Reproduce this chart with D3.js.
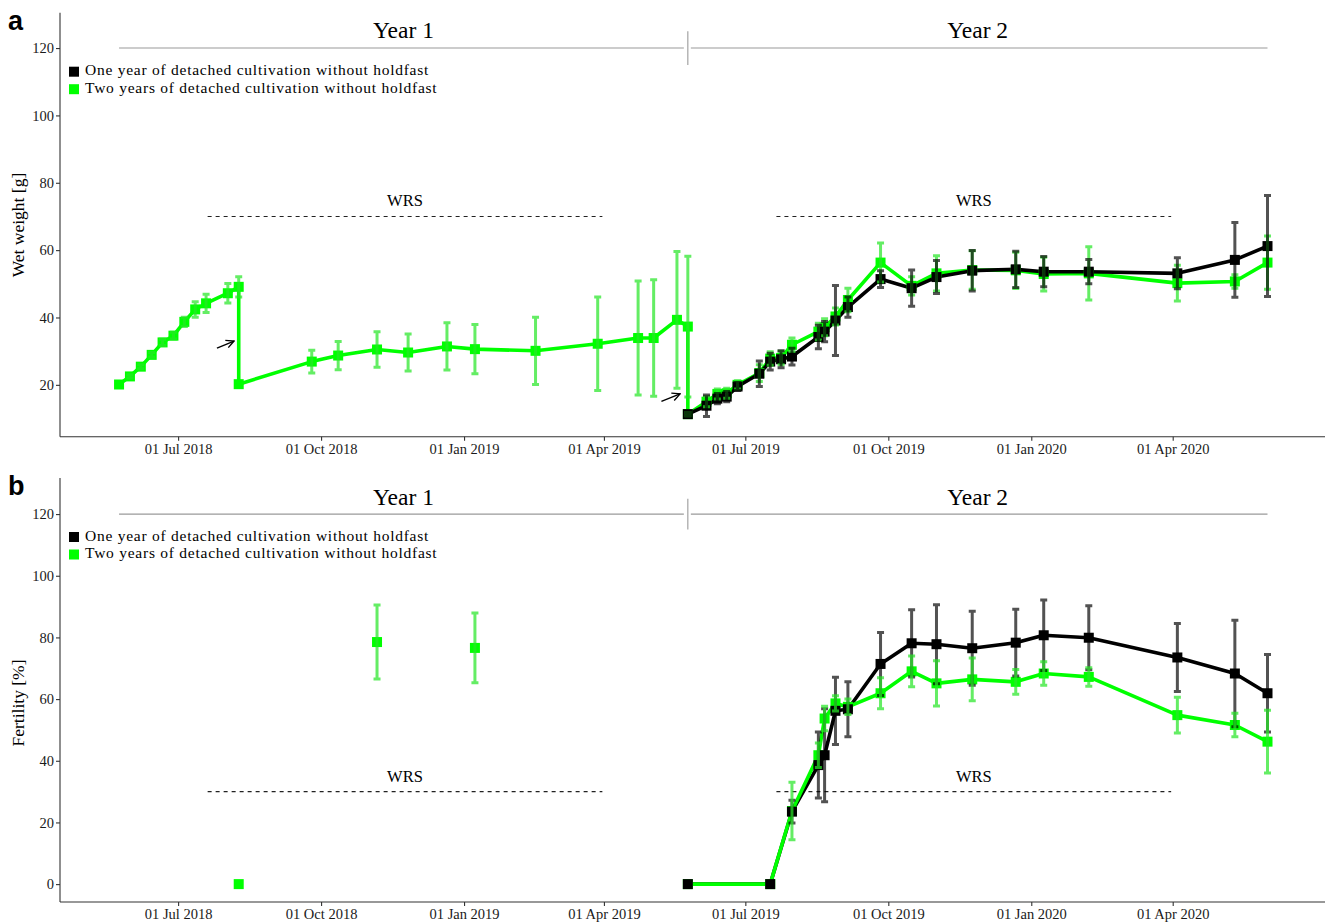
<!DOCTYPE html>
<html>
<head>
<meta charset="utf-8">
<script src="https://cdn.jsdelivr.net/npm/d3@7"></script>
<style>
  html, body { margin: 0; padding: 0; background: #fff; }
  svg { display: block; }
  text { font-family: "Liberation Serif", "Times New Roman", serif; }
</style>
</head>
<body>
<svg id="chart" width="1325" height="923"></svg>
<script>
// ---------------- DATA ----------------
const seriesNames = ["One year of detached cultivation without holdfast", "Two years of detached cultivation without holdfast"];
const seriesColors = ["#000000", "#00ff00"];
const xTickDates = ["2018-07-01", "2018-10-01", "2019-01-01", "2019-04-01", "2019-07-01", "2019-10-01", "2020-01-01", "2020-04-01"];
const xTickLabels = ["01 Jul 2018", "01 Oct 2018", "01 Jan 2019", "01 Apr 2019", "01 Jul 2019", "01 Oct 2019", "01 Jan 2020", "01 Apr 2020"];
const yTicksWeight = [20, 40, 60, 80, 100, 120];
const yTicksFert = [0, 20, 40, 60, 80, 100, 120];

// Panel a: wet weight, two years of detached cultivation (green)
const weightGreenDates = ["2018-05-24","2018-05-31","2018-06-07","2018-06-14","2018-06-21","2018-06-28","2018-07-05","2018-07-12","2018-07-19","2018-08-02","2018-08-09","2018-08-09",
  "2018-09-25","2018-10-12","2018-11-06","2018-11-26","2018-12-21","2019-01-08","2019-02-16","2019-03-28","2019-04-23","2019-05-03","2019-05-18","2019-05-25","2019-05-25",
  "2019-06-06","2019-06-13","2019-06-19","2019-06-26","2019-07-10","2019-07-17","2019-07-24","2019-07-31","2019-08-17","2019-08-21","2019-08-28","2019-09-05",
  "2019-09-26","2019-10-16","2019-11-01","2019-11-24","2019-12-22","2020-01-09","2020-02-07","2020-04-04","2020-05-11","2020-06-01"];
const weightGreenMean = [20.1,22.5,25.4,28.9,32.6,34.6,38.7,42.4,44.2,47.2,49.1,20.2,
  26.9,28.7,30.5,29.6,31.4,30.6,30.1,32.2,33.9,33.9,39.3,37.3,11.3,
  15.0,17.3,17.5,20.0,23.5,27.8,28.0,31.9,35.8,37.1,40.3,45.2,
  56.3,49.4,53.1,54.1,54.0,52.9,53.1,50.2,50.7,56.3];
const weightGreenErr = [0.4,0.5,0.6,0.7,0.9,1.0,1.4,2.3,2.7,2.9,3.0,0.4,
  3.4,4.2,5.3,5.5,7.0,7.3,10.0,13.9,16.9,17.3,20.3,20.9,0.5,
  1.5,1.5,1.5,1.2,2.5,2.0,2.0,2.0,2.5,2.5,2.5,3.5,
  5.8,2.7,5.2,5.7,5.4,5.0,7.9,5.3,2.0,7.9];

// Panel a: wet weight, one year of detached cultivation (black)
const weightBlackDates = ["2019-05-25","2019-06-06","2019-06-13","2019-06-19","2019-06-26","2019-07-10","2019-07-17","2019-07-24","2019-07-31","2019-08-17","2019-08-21","2019-08-28","2019-09-05",
  "2019-09-26","2019-10-16","2019-11-01","2019-11-24","2019-12-22","2020-01-09","2020-02-07","2020-04-04","2020-05-11","2020-06-01"];
const weightBlackMean = [11.3,13.8,15.9,16.5,19.5,23.3,26.9,27.6,28.4,34.2,35.8,39.1,43.1,
  51.4,48.7,52.0,53.9,54.3,53.6,53.6,53.1,57.1,61.2];
const weightBlackErr = [0.5,3.2,1.5,1.5,1.2,3.8,2.5,2.5,2.5,3.5,3.0,10.4,3.0,
  2.5,5.4,4.9,6.0,5.4,4.5,3.6,4.6,11.1,15.0];

// Panel b: fertility, two years (green) — year 1 single samplings (not joined)
const fertGreenY1Dates = ["2018-08-09","2018-11-06","2019-01-08"];
const fertGreenY1Mean = [0, 78.5, 76.6];
const fertGreenY1Err = [0, 12.0, 11.3];
// Panel b: fertility, year 2 sampling dates
const fertY2Dates = ["2019-05-25","2019-07-17","2019-07-31","2019-08-17","2019-08-21","2019-08-28","2019-09-05",
  "2019-09-26","2019-10-16","2019-11-01","2019-11-24","2019-12-22","2020-01-09","2020-02-07","2020-04-04","2020-05-11","2020-06-01"];
const fertGreenMean = [0, 0, 23.7, 41.8, 53.7, 58.6, 57.5, 61.9, 69.0, 65.1, 66.4, 65.6, 68.3, 67.2, 54.8, 51.6, 46.2];
const fertGreenErr  = [0, 0, 9.3, 4.0, 4.0, 2.5, 2.5, 5.0, 5.0, 7.3, 6.9, 4.0, 3.8, 3.0, 5.8, 3.8, 10.2];
// Panel b: fertility, one year (black)
const fertBlackMean = [0, 0, 23.5, 38.6, 41.8, 56.2, 56.7, 71.4, 78.1, 77.8, 76.5, 78.3, 80.7, 79.9, 73.5, 68.3, 61.9];
const fertBlackErr  = [0, 0, 3.7, 10.7, 15.1, 10.9, 8.9, 10.2, 10.9, 12.8, 12.0, 10.8, 11.4, 10.4, 11.0, 17.3, 12.6];

// Annotations
const yearLabels = ["Year 1", "Year 2"];
const yearSpan = ["2018-05-24", "2019-05-25", "2020-06-01"]; // start, divider, end
const yearLineValue = 120;
const yearLabelValue = 124.6;
const dividerRange = [115, 125];
const wrsPeriods = [["2018-07-20", "2019-03-31"], ["2019-07-21", "2020-03-31"]];
const wrsValueWeight = 70;
const wrsValueFert = 30;
const arrowsWeight = [
  {from: ["2018-07-26", 30.9], to: ["2018-08-06", 33.0]},
  {from: ["2019-05-08", 15.1], to: ["2019-05-20", 17.3]}
];

// ---------------- LAYOUT ----------------
const parse = d3.timeParse("%Y-%m-%d");
const svg = d3.select("#chart");
const xLeft = 60, xRight = 1325;
const x = d3.scaleTime().domain([parse("2018-04-16"), parse("2020-07-08")]).range([xLeft, xRight]);

function zip(dates, mean, err) {
  return dates.map((d, i) => ({date: parse(d), v: mean[i], e: err[i]}));
}

const panels = [
  {
    tag: "a", yTitle: "Wet weight [g]", yDomain: [4.6, 130.5], yRange: [436.7, 12.7], yTicks: yTicksWeight,
    titleY: 225, wrsValue: wrsValueWeight,
    lines: [
      {color: 1, data: zip(weightGreenDates, weightGreenMean, weightGreenErr)},
      {color: 0, data: zip(weightBlackDates, weightBlackMean, weightBlackErr)}
    ],
    pointsOnly: [],
    arrows: arrowsWeight
  },
  {
    tag: "b", yTitle: "Fertility [%]", yDomain: [-5.8, 131.7], yRange: [902, 478], yTicks: yTicksFert,
    titleY: 703, wrsValue: wrsValueFert,
    lines: [
      {color: 0, data: zip(fertY2Dates, fertBlackMean, fertBlackErr)},
      {color: 1, data: zip(fertY2Dates, fertGreenMean, fertGreenErr)}
    ],
    pointsOnly: [
      {color: 1, data: zip(fertGreenY1Dates, fertGreenY1Mean, fertGreenY1Err)}
    ],
    arrows: []
  }
];

const errColors = ["rgba(0,0,0,0.68)", "rgba(40,230,40,0.72)"];

svg.append("defs").append("marker")
  .attr("id", "arrowhead").attr("viewBox", "0 0 10 10")
  .attr("refX", 9).attr("refY", 5).attr("markerWidth", 7).attr("markerHeight", 7)
  .attr("orient", "auto")
  .append("path").attr("d", "M1,1 L9,5 L1,9").attr("fill", "none").attr("stroke", "#000").attr("stroke-width", 1.4);

panels.forEach(p => {
  const y = d3.scaleLinear().domain(p.yDomain).range(p.yRange);
  const g = svg.append("g");
  const top = p.yRange[1], bottom = p.yRange[0];

  // panel tag
  g.append("text").attr("x", 8).attr("y", top + 17)
    .style("font-family", "'Liberation Sans', Arial, sans-serif")
    .style("font-weight", "bold").style("font-size", "27px").text(p.tag);

  // axes
  const yAxis = d3.axisLeft(y).tickValues(p.yTicks).tickSize(4).tickPadding(2).tickFormat(d3.format("d"));
  const ya = g.append("g").attr("transform", `translate(${xLeft},0)`).call(yAxis);
  ya.select(".domain").attr("d", `M0,${top}V${bottom}`);
  const xAxis = d3.axisBottom(x).tickValues(xTickDates.map(parse)).tickSize(4).tickPadding(3)
    .tickFormat((d, i) => xTickLabels[i]);
  const xa = g.append("g").attr("transform", `translate(0,${bottom})`).call(xAxis);
  xa.select(".domain").attr("d", `M${xLeft},0H${xRight}`);
  [ya, xa].forEach(a => {
    a.select(".domain").attr("stroke", "#333").attr("stroke-width", 1.1);
    a.selectAll(".tick line").attr("stroke", "#333").attr("stroke-width", 1.1);
    a.selectAll(".tick text").attr("fill", "#1a1a1a").style("font-size", "14.5px")
      .style("font-family", "'Liberation Serif', serif");
  });

  // y title
  g.append("text").attr("transform", `translate(24,${p.titleY}) rotate(-90)`)
    .attr("text-anchor", "middle").style("font-size", "17.5px").text(p.yTitle);

  // year lines & labels
  const xs = yearSpan.map(parse);
  g.append("line").attr("x1", x(xs[0])).attr("x2", x(xs[1]) - 4)
    .attr("y1", y(yearLineValue)).attr("y2", y(yearLineValue)).attr("stroke", "#9a9a9a").attr("stroke-width", 1.1);
  g.append("line").attr("x1", x(xs[1]) + 3).attr("x2", x(xs[2]))
    .attr("y1", y(yearLineValue)).attr("y2", y(yearLineValue)).attr("stroke", "#9a9a9a").attr("stroke-width", 1.1);
  g.append("line").attr("x1", x(xs[1])).attr("x2", x(xs[1]))
    .attr("y1", y(dividerRange[0])).attr("y2", y(dividerRange[1])).attr("stroke", "#9a9a9a").attr("stroke-width", 1.1);
  yearLabels.forEach((lab, i) => {
    g.append("text").attr("x", (x(xs[i]) + x(xs[i + 1])) / 2).attr("y", y(yearLabelValue))
      .attr("dominant-baseline", "middle").attr("text-anchor", "middle")
      .style("font-size", "23.5px").text(lab);
  });

  // WRS
  wrsPeriods.forEach(w => {
    const x1 = x(parse(w[0])), x2 = x(parse(w[1]));
    g.append("line").attr("x1", x1).attr("x2", x2).attr("y1", y(p.wrsValue)).attr("y2", y(p.wrsValue))
      .attr("stroke", "#222").attr("stroke-width", 1.1).attr("stroke-dasharray", "4,4");
    g.append("text").attr("x", (x1 + x2) / 2).attr("y", y(p.wrsValue) - 10)
      .attr("text-anchor", "middle").style("font-size", "16.5px").text("WRS");
  });

  // legend
  seriesNames.forEach((n, i) => {
    const ly = top + 59 + i * 17.5;
    g.append("rect").attr("x", 69).attr("y", ly - 5).attr("width", 10).attr("height", 10).attr("fill", seriesColors[i]);
    g.append("text").attr("x", 85).attr("y", ly).attr("dominant-baseline", "middle")
      .style("font-size", "15.5px").style("letter-spacing", "0.75px").text(n);
  });

  // lines
  const line = d3.line().x(d => x(d.date)).y(d => y(d.v));
  p.lines.forEach(s => {
    g.append("path").datum(s.data).attr("d", line).attr("fill", "none")
      .attr("stroke", seriesColors[s.color]).attr("stroke-width", 3.6).attr("stroke-linejoin", "round");
  });
  // points
  const allSets = [...p.lines, ...p.pointsOnly];
  allSets.slice().sort((a, b) => b.color - a.color).forEach(s => {
    g.selectAll(null).data(s.data).enter().append("rect")
      .attr("x", d => x(d.date) - 5).attr("y", d => y(d.v) - 5)
      .attr("width", 10).attr("height", 10).attr("fill", seriesColors[s.color]);
  });
  // error bars
  allSets.forEach(s => {
    const eb = g.append("g").attr("stroke", errColors[s.color]).attr("stroke-width", 3).attr("fill", "none");
    s.data.filter(d => d.e > 0.45).forEach(d => {
      const cx = x(d.date), y1 = y(d.v - d.e), y2 = y(d.v + d.e);
      eb.append("path").attr("d", `M${cx},${y1}V${y2}M${cx - 3.5},${y1}H${cx + 3.5}M${cx - 3.5},${y2}H${cx + 3.5}`);
    });
  });

  // arrows
  p.arrows.forEach(a => {
    g.append("line").attr("x1", x(parse(a.from[0]))).attr("y1", y(a.from[1]))
      .attr("x2", x(parse(a.to[0]))).attr("y2", y(a.to[1]))
      .attr("stroke", "#000").attr("stroke-width", 1.4).attr("marker-end", "url(#arrowhead)");
  });
});
</script>
</body>
</html>
